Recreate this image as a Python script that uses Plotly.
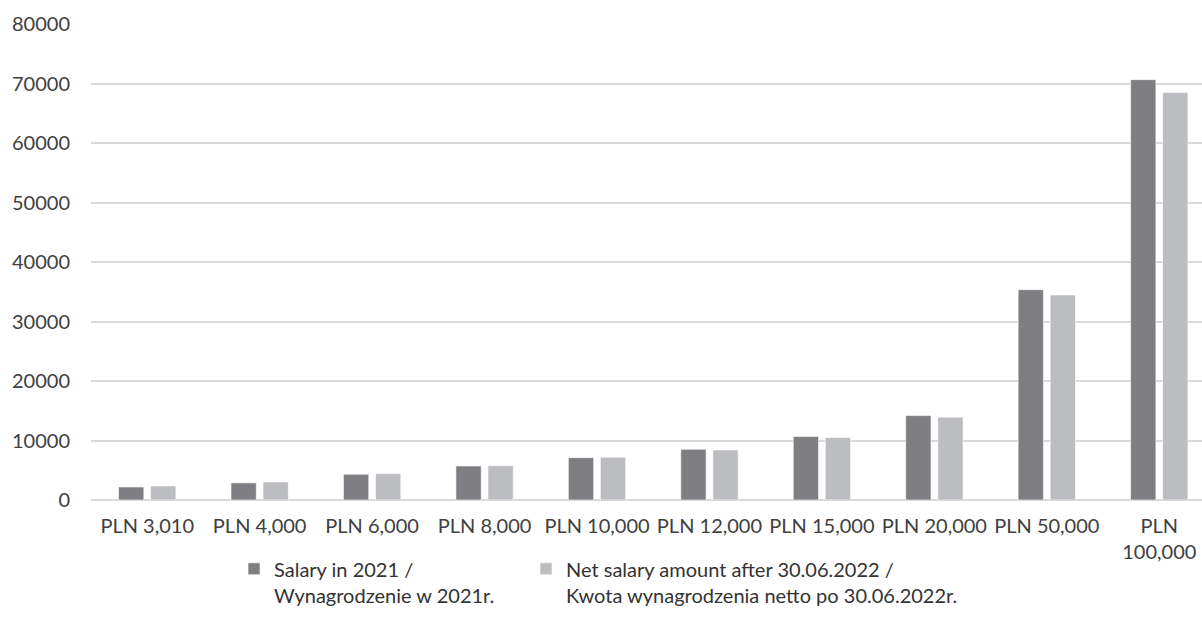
import plotly.graph_objects as go

categories = ["PLN 3,010", "PLN 4,000", "PLN 6,000", "PLN 8,000", "PLN 10,000",
              "PLN 12,000", "PLN 15,000", "PLN 20,000", "PLN 50,000", "PLN<br>100,000"]
salary_2021 = [2190, 2880, 4330, 5720, 7120, 8530, 10660, 14190, 35350, 70650]
net_after_2022 = [2360, 3030, 4430, 5770, 7190, 8420, 10490, 13920, 34460, 68470]
series_names = ["Salary in 2021 /<br>Wynagrodzenie w 2021r.",
                "Net salary amount after 30.06.2022 /<br>Kwota wynagrodzenia netto po 30.06.2022r."]
y_ticks = [0, 10000, 20000, 30000, 40000, 50000, 60000, 70000, 80000]

FONT = "Lato"
TXT = "#404040"

fig = go.Figure()
fig.add_trace(go.Bar(x=categories, y=salary_2021, name=series_names[0], legendwidth=247,
                     marker=dict(color="#7f7f83", line=dict(color="#ffffff", width=0.6))))
fig.add_trace(go.Bar(x=categories, y=net_after_2022, name=series_names[1],
                     marker=dict(color="#bcbdc1", line=dict(color="#ffffff", width=0.6))))

fig.update_layout(
    width=1202, height=635,
    margin=dict(l=91, r=0, t=24, b=135, autoexpand=False),
    paper_bgcolor="white", plot_bgcolor="white",
    barmode="group", bargap=0.43, bargroupgap=0.21,
    font=dict(family=FONT, size=20, color=TXT),
    showlegend=True,
    legend=dict(orientation="h", xref="container", yref="container",
                x=0.1947, xanchor="left", y=0.135, yanchor="top",
                valign="top", font=dict(family=FONT, size=20, color="#333333"),
                traceorder="normal", bgcolor="rgba(0,0,0,0)"),
    xaxis=dict(type="category", range=[-0.5, 9.38], tickangle=0, showgrid=False,
               showline=False, zeroline=False, ticks="", automargin=False,
               ticklabelstandoff=12,
               tickfont=dict(family=FONT, size=20, color=TXT)),
    yaxis=dict(range=[0, 80000], tickvals=y_ticks, showgrid=True,
               gridcolor="#d9d9d9", gridwidth=1.5, zeroline=True,
               zerolinecolor="#d9d9d9", zerolinewidth=1.5, ticks="",
               automargin=False, ticklabelstandoff=20, tickformat="d",
               tickfont=dict(family=FONT, size=20, color=TXT)),
)

fig.write_html("out.html", config={"displayModeBar": False},
               post_script="document.body.style.margin='0px';document.body.style.overflow='hidden';")
